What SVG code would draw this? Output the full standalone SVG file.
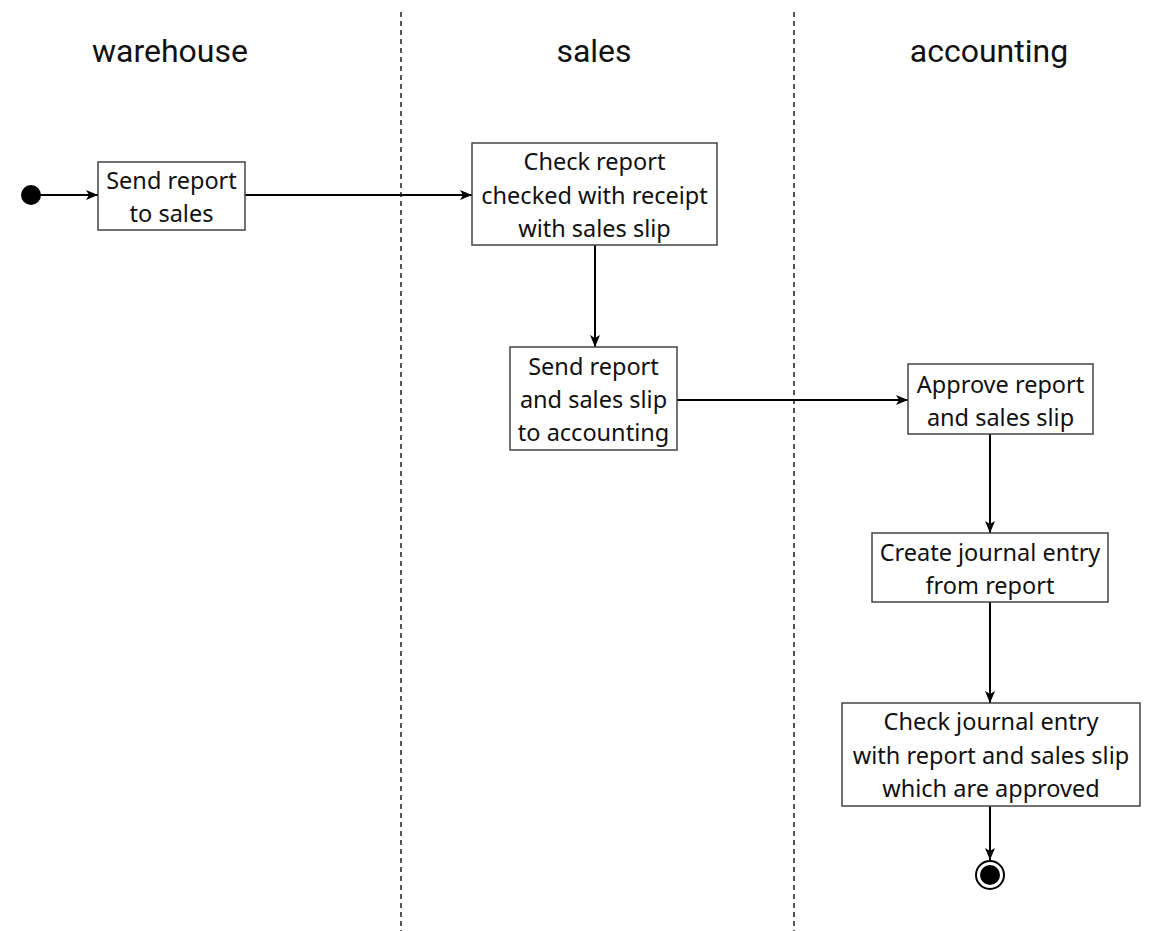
<svg xmlns="http://www.w3.org/2000/svg" width="1154" height="931" viewBox="0 0 1154 931">
  <style>
    .lane { stroke: #555; stroke-width: 2; stroke-dasharray: 5 4; fill: none; }
    .title { font-family: Roboto, "Liberation Sans", sans-serif; font-size: 32px; fill: #111; text-anchor: middle; }
    .box { fill: #fff; stroke: #444; stroke-width: 1.5; }
    .label { font-family: "Noto Sans", "Liberation Sans", sans-serif; font-size: 23.5px; fill: #111; text-anchor: middle; }
    .flow { stroke: #000; stroke-width: 2; fill: none; marker-end: url(#arrow); }
  </style>
  <defs>
    <marker id="arrow" viewBox="0 0 12 10" refX="12" refY="5" markerWidth="12" markerHeight="10" markerUnits="userSpaceOnUse" orient="auto">
      <path d="M0,0 L12,5 L0,10 L3,5 Z" fill="#000"/>
    </marker>
  </defs>
  <rect width="1154" height="931" fill="#fff"/>

  <!-- swimlane separators and headers -->
  <g id="lanes">
    <line class="lane" x1="401" y1="12" x2="401" y2="931"/>
    <line class="lane" x1="794" y1="12" x2="794" y2="931"/>
    <text class="title" x="170" y="62">warehouse</text>
    <text class="title" x="594" y="62">sales</text>
    <text class="title" x="989" y="62">accounting</text>
  </g>

  <!-- connectors -->
  <g id="connectors">
    <line class="flow" x1="40" y1="195" x2="98" y2="195"/>
    <line class="flow" x1="245" y1="195" x2="472" y2="195"/>
    <line class="flow" x1="595" y1="245" x2="595" y2="347"/>
    <line class="flow" x1="677" y1="400" x2="908" y2="400"/>
    <line class="flow" x1="990" y1="434" x2="990" y2="533"/>
    <line class="flow" x1="990" y1="602" x2="990" y2="703"/>
    <line class="flow" x1="990" y1="806" x2="990" y2="860"/>
  </g>

  <g id="start">
    <circle cx="31" cy="195" r="10" fill="#000"/>
  </g>

  <g id="send-report-to-sales">
    <rect class="box" x="98" y="162" width="147" height="68"/>
    <text class="label" x="171.5" y="189">Send report</text>
    <text class="label" x="171.5" y="222">to sales</text>
  </g>

  <g id="check-report">
    <rect class="box" x="472" y="143" width="245" height="102"/>
    <text class="label" x="594.5" y="170">Check report</text>
    <text class="label" x="594.5" y="204">checked with receipt</text>
    <text class="label" x="594.5" y="237">with sales slip</text>
  </g>

  <g id="send-to-accounting">
    <rect class="box" x="510" y="347" width="167" height="103"/>
    <text class="label" x="593.5" y="375">Send report</text>
    <text class="label" x="593.5" y="408">and sales slip</text>
    <text class="label" x="593.5" y="441">to accounting</text>
  </g>

  <g id="approve-report">
    <rect class="box" x="908" y="364" width="185" height="70"/>
    <text class="label" x="1000.5" y="393">Approve report</text>
    <text class="label" x="1000.5" y="426">and sales slip</text>
  </g>

  <g id="create-journal-entry">
    <rect class="box" x="872" y="533" width="236" height="69"/>
    <text class="label" x="990" y="561">Create journal entry</text>
    <text class="label" x="990" y="594">from report</text>
  </g>

  <g id="check-journal-entry">
    <rect class="box" x="842" y="703" width="298" height="103"/>
    <text class="label" x="991" y="730">Check journal entry</text>
    <text class="label" x="991" y="764">with report and sales slip</text>
    <text class="label" x="991" y="797">which are approved</text>
  </g>

  <g id="end">
    <circle cx="990" cy="875" r="14" fill="#fff" stroke="#000" stroke-width="2"/>
    <circle cx="990" cy="875" r="10" fill="#000"/>
  </g>
</svg>
